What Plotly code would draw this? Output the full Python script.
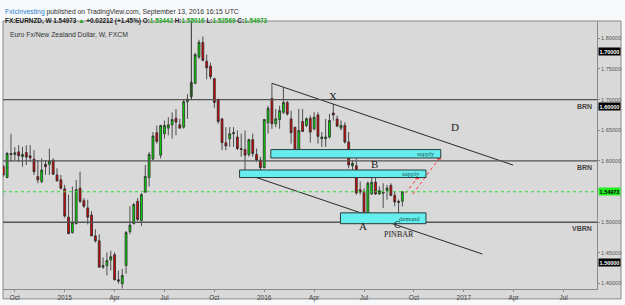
import plotly.graph_objects as go
import pandas as pd

# ---------------- data ----------------
first_week = "2014-09-15"
n_weeks = 105
dates = pd.date_range(first_week, periods=n_weeks, freq="7D")

opens = [1.5906, 1.5729, 1.6121, 1.6105, 1.6148, 1.6073, 1.6137, 1.6083, 1.6030, 1.5745,
         1.5664, 1.5944, 1.5944, 1.6013, 1.5772, 1.5691, 1.5546, 1.5083, 1.4831, 1.4976,
         1.5556, 1.5352, 1.5234, 1.5116, 1.4777, 1.4696, 1.4266, 1.4293, 1.4384, 1.4470,
         1.4062, 1.3997, 1.4293, 1.4847, 1.4976, 1.5341, 1.5030, 1.5492, 1.5729, 1.6030,
         1.6460, 1.6094, 1.6444, 1.6535, 1.6589, 1.6696, 1.6589, 1.6551, 1.6965, 1.7051,
         1.7266, 1.7696, 1.7933, 1.7626, 1.7546, 1.7341, 1.6997, 1.6686, 1.6298, 1.6363,
         1.6444, 1.6390, 1.6202, 1.6186, 1.6105, 1.6347, 1.6105, 1.6014, 1.5890, 1.6621,
         1.7019, 1.6605, 1.6675, 1.6793, 1.6954, 1.6686, 1.6551, 1.6175, 1.6643, 1.6578,
         1.6696, 1.6524, 1.6750, 1.6363, 1.6363, 1.6390, 1.6782, 1.6685, 1.6535, 1.6578,
         1.6309, 1.5922, 1.5922, 1.5530, 1.5503, 1.5110, 1.5460, 1.5653, 1.5460, 1.5492,
         1.5514, 1.5600, 1.5438, 1.5340, 1.53442]
highs = [1.5933, 1.6148, 1.6444, 1.6228, 1.6255, 1.6228, 1.6255, 1.6255, 1.6175, 1.6013,
         1.6040, 1.6013, 1.6202, 1.6040, 1.5879, 1.5772, 1.5610, 1.5449, 1.5583, 1.5691,
         1.5825, 1.5395, 1.5368, 1.5180, 1.4884, 1.4804, 1.4427, 1.4508, 1.4535, 1.4508,
         1.4212, 1.4239, 1.4858, 1.5261, 1.5315, 1.5395, 1.5476, 1.5933, 1.6148, 1.6470,
         1.6578, 1.6589, 1.6659, 1.6712, 1.6793, 1.6847, 1.6685, 1.7008, 1.7089, 1.7304,
         1.7761, 1.7976, 1.8030, 1.7734, 1.7600, 1.7358, 1.7019, 1.6696, 1.6551, 1.6551,
         1.6551, 1.6497, 1.6444, 1.6497, 1.6363, 1.6444, 1.6202, 1.6067, 1.6686, 1.6901,
         1.7266, 1.6847, 1.6901, 1.7196, 1.6981, 1.6820, 1.6551, 1.6847, 1.6847, 1.6712,
         1.6739, 1.6793, 1.6793, 1.6471, 1.6685, 1.6766, 1.6928, 1.6739, 1.6659, 1.6632,
         1.6470, 1.6014, 1.6040, 1.5664, 1.5557, 1.5664, 1.5825, 1.5761, 1.5583, 1.5637,
         1.5610, 1.5637, 1.5503, 1.5368, 1.55016]
lows = [1.5745, 1.5718, 1.5987, 1.6013, 1.5987, 1.5906, 1.5933, 1.5987, 1.5772, 1.5637,
        1.5637, 1.5772, 1.5772, 1.5772, 1.5664, 1.5530, 1.5073, 1.4804, 1.4815, 1.4965,
        1.5314, 1.5234, 1.4965, 1.4777, 1.4669, 1.4266, 1.4239, 1.4132, 1.4212, 1.4051,
        1.3997, 1.3920, 1.4159, 1.4804, 1.4965, 1.5019, 1.4938, 1.5476, 1.5583, 1.6014,
        1.6282, 1.6040, 1.6363, 1.6417, 1.6363, 1.6417, 1.6524, 1.6524, 1.6685, 1.7019,
        1.7250, 1.7664, 1.7626, 1.7331, 1.7331, 1.6860, 1.6605, 1.6175, 1.6175, 1.6229,
        1.6229, 1.6175, 1.6067, 1.5825, 1.6067, 1.6067, 1.5987, 1.5852, 1.5879, 1.6444,
        1.6524, 1.6551, 1.6524, 1.6766, 1.6739, 1.6282, 1.6105, 1.6148, 1.6470, 1.6551,
        1.6298, 1.6497, 1.6282, 1.6229, 1.6229, 1.6363, 1.6659, 1.6551, 1.6497, 1.6282,
        1.5879, 1.5852, 1.5449, 1.5449, 1.5100, 1.5100, 1.5449, 1.5449, 1.5449, 1.5234,
        1.5368, 1.5422, 1.5261, 1.5050, 1.52569]
closes = [1.5772, 1.6121, 1.6105, 1.6132, 1.6083, 1.6105, 1.6062, 1.6051, 1.5825, 1.5691,
          1.5852, 1.5906, 1.5997, 1.5782, 1.5675, 1.5556, 1.5100, 1.4815, 1.4992, 1.5530,
          1.5341, 1.5261, 1.5083, 1.4777, 1.4696, 1.4266, 1.4293, 1.4374, 1.4438, 1.4062,
          1.4040, 1.4132, 1.4831, 1.4954, 1.5288, 1.5046, 1.5449, 1.5745, 1.6105, 1.6406,
          1.6320, 1.6578, 1.6578, 1.6589, 1.6675, 1.6632, 1.6535, 1.6965, 1.7008, 1.7277,
          1.7734, 1.7933, 1.7642, 1.7519, 1.7374, 1.6954, 1.6643, 1.6298, 1.6245, 1.6444,
          1.6460, 1.6202, 1.6186, 1.6094, 1.6347, 1.6121, 1.6014, 1.5890, 1.6675, 1.6858,
          1.6605, 1.6686, 1.6820, 1.6954, 1.6766, 1.6460, 1.6121, 1.6497, 1.6481, 1.6686,
          1.6470, 1.6712, 1.6400, 1.6390, 1.6390, 1.6659, 1.6750, 1.6567, 1.6578, 1.6309,
          1.5933, 1.5960, 1.5476, 1.5492, 1.5110, 1.5637, 1.5653, 1.5460, 1.5514, 1.5476,
          1.5557, 1.5438, 1.5331, 1.5325, 1.54973]

last_price = 1.54973

x_tick_dates = ["2014-10-06", "2015-01-05", "2015-04-06", "2015-07-06", "2015-10-05",
                "2016-01-04", "2016-04-04", "2016-07-04", "2016-10-03", "2017-01-02",
                "2017-04-03", "2017-07-03"]
x_tick_text = ["Oct", "2015", "Apr", "Jul", "Oct", "2016", "Apr", "Jul", "Oct", "2017", "Apr", "Jul"]
# 1.55 is hidden behind the last-price tag in the reference
y_tick_vals = [1.40, 1.45, 1.50, 1.60, 1.65, 1.70, 1.75, 1.80]

levels = [1.70, 1.60, 1.50]
level_names = ["BRN", "BRN", "VBRN"]

# zones: (start, end, low, high, label)
zone_starts = ["2016-01-16", "2015-11-20", "2016-05-22"]
zone_ends = ["2016-11-21", "2016-10-25", "2016-10-25"]
zone_lows = [1.6048, 1.5729, 1.4976]
zone_highs = [1.6185, 1.5852, 1.5153]
zone_labels = ["supply", "supply", "demand"]

# trend lines
upper_line_dates = ["2016-01-18", "2017-04-02"]
upper_line_prices = [1.7266, 1.5932]
lower_line_dates = ["2015-11-24", "2017-02-05"]
lower_line_prices = [1.5810, 1.4481]
vline_date = "2015-08-24"

# red projection arrows
arrow_starts = [("2016-09-18", 1.5476), ("2016-10-01", 1.5460)]
arrow_ends = [("2016-10-09", 1.5718), ("2016-11-18", 1.6040)]

# wave labels
wave_text = ["X", "B", "A", "C", "D", "PINBAR"]
wave_dates = ["2016-05-08", "2016-07-23", "2016-07-03", "2016-09-03", "2016-12-17", "2016-09-06"]
wave_prices = [1.7052, 1.5944, 1.4939, 1.4968, 1.6552, 1.4795]
wave_sizes = [11, 11, 11, 10, 11, 8]

# price tags on the axis (as shown)
tag_texts = ["1.70000", "1.60000", "1.54973", "1.50000"]
tag_prices = [1.7782, 1.6895, 1.5503, 1.4347]
tag_colors = ["#000000", "#000000", "#22ee22", "#000000"]
tag_fonts = ["#ffffff", "#ffffff", "#000000", "#ffffff"]

# ---------------- layout helpers ----------------
W, H = 625, 305
L_, R_, T_, B_ = 3, 597, 21, 292


def px(xp):
    return (xp - L_) / (R_ - L_)


def py(yp):
    return (B_ - yp) / (B_ - T_)


y_top = 1.8282
y_bot = 1.3911
x_left = "2014-09-14 11:00"
x_right = "2017-09-02"

BG = "#d9d9d9"
SANS = "Liberation Sans, Arial, sans-serif"
SERIF = "Liberation Serif, Times New Roman, serif"

fig = go.Figure()

fig.add_trace(go.Candlestick(
    x=dates, open=opens, high=highs, low=lows, close=closes,
    increasing=dict(fillcolor="#00e400", line=dict(color="#2a2a2a", width=0.8)),
    decreasing=dict(fillcolor="#e00000", line=dict(color="#2a2a2a", width=0.8)),
    whiskerwidth=0, showlegend=False, hoverinfo="skip",
))

fig.add_trace(go.Scatter(x=upper_line_dates, y=upper_line_prices, mode="lines",
                         line=dict(color="#2a2a2a", width=1), showlegend=False, hoverinfo="skip"))
fig.add_trace(go.Scatter(x=lower_line_dates, y=lower_line_prices, mode="lines",
                         line=dict(color="#2a2a2a", width=1), showlegend=False, hoverinfo="skip"))

for (sd, sp), (ed, ep) in zip(arrow_starts, arrow_ends):
    fig.add_trace(go.Scatter(x=[sd, ed], y=[sp, ep], mode="lines",
                             line=dict(color="#ff3030", width=1, dash="dot"),
                             showlegend=False, hoverinfo="skip"))
    fig.add_trace(go.Scatter(x=[ed], y=[ep], mode="markers",
                             marker=dict(symbol="triangle-up", size=4, color="#ff3030"),
                             showlegend=False, hoverinfo="skip"))

shapes = []
shapes.append(dict(type="rect", xref="paper", yref="paper", x0=0, x1=px(621), y0=py(302), y1=1,
                   fillcolor=BG, line=dict(color="#8a8a8a", width=1), layer="below"))
for lv in levels:
    shapes.append(dict(type="line", xref="paper", yref="y", x0=0, x1=1, y0=lv, y1=lv,
                       line=dict(color="#555555", width=1.3)))
shapes.append(dict(type="line", xref="paper", yref="y", x0=0, x1=1, y0=last_price, y1=last_price,
                   line=dict(color="#33dd33", width=1, dash="dot")))
shapes.append(dict(type="line", xref="x", yref="y", x0=vline_date, x1=vline_date, y0=levels[0], y1=y_top,
                   line=dict(color="#333333", width=1)))
for s, e, lo, hi in zip(zone_starts, zone_ends, zone_lows, zone_highs):
    shapes.append(dict(type="rect", xref="x", yref="y", x0=s, x1=e, y0=lo, y1=hi,
                       fillcolor="#66eeee", line=dict(color="#2b3b3b", width=1)))

annotations = []
for s, e, lo, hi, lab in zip(zone_starts, zone_ends, zone_lows, zone_highs, zone_labels):
    annotations.append(dict(x=e, y=(lo + hi) / 2, xref="x", yref="y", text=lab, showarrow=False,
                            xanchor="right", xshift=-4, font=dict(family=SERIF, size=6.5, color="#1a5a5a")))
for lv, nm in zip(levels, level_names):
    annotations.append(dict(x=px(594), y=lv, xref="paper", yref="y", text="<b>" + nm + "</b>",
                            showarrow=False, xanchor="right", yanchor="top", yshift=-1,
                            font=dict(family=SANS, size=7, color="#444444")))
for t, d, p, s in zip(wave_text, wave_dates, wave_prices, wave_sizes):
    annotations.append(dict(x=d, y=p, xref="x", yref="y", text=t, showarrow=False,
                            font=dict(family=SERIF, size=s, color="#222222")))
for t, p, bc, fc in zip(tag_texts, tag_prices, tag_colors, tag_fonts):
    annotations.append(dict(x=px(597.5), y=p, xref="paper", yref="y", text="<b>" + t + "</b>",
                            showarrow=False, xanchor="left", bgcolor=bc, width=21, height=7,
                            borderpad=0, font=dict(family=SANS, size=5.5, color=fc)))

annotations.append(dict(x=px(3), y=py(6), xref="paper", yref="paper", xanchor="left", showarrow=False,
                        text="<span style='color:#2a7fd0'>FxIcinvesting</span> published on TradingView.com, September 13, 2016 16:15 UTC",
                        font=dict(family=SANS, size=6.8, color="#333333")))
G = "#1fa51f"
annotations.append(dict(x=px(3), y=py(15), xref="paper", yref="paper", xanchor="left", showarrow=False,
                        text=("<b>FX:EURNZD, W 1.54973 <span style='color:%s'>▲</span> +0.02212 (+1.45%%) "
                              "O:<span style='color:%s'>1.53442</span> H:<span style='color:%s'>1.55016</span> "
                              "L:<span style='color:%s'>1.52569</span> C:<span style='color:%s'>1.54973</span></b>") % (G, G, G, G, G),
                        font=dict(family=SANS, size=6.4, color="#222222")))
annotations.append(dict(x=px(8), y=py(29), xref="paper", yref="paper", xanchor="left", showarrow=False,
                        text="Euro Fx/New Zealand Dollar, W, FXCM",
                        font=dict(family=SANS, size=6.8, color="#333333")))

fig.update_layout(
    width=W, height=H,
    margin=dict(l=L_, r=W - R_, t=T_, b=H - B_),
    paper_bgcolor="#f7f8fa", plot_bgcolor=BG,
    shapes=shapes, annotations=annotations,
    showlegend=False,
    xaxis=dict(type="date", range=[x_left, x_right], rangeslider=dict(visible=False),
               tickvals=x_tick_dates, ticktext=x_tick_text, showgrid=False, zeroline=False,
               showline=True, linecolor="#8a8a8a", linewidth=1, ticks="outside", ticklen=2,
               tickcolor="#8a8a8a", tickfont=dict(family=SANS, size=6.5, color="#444444")),
    yaxis=dict(range=[y_bot, y_top], side="right", tickvals=y_tick_vals, tickformat=".5f",
               showgrid=False, zeroline=False, showline=True, linecolor="#8a8a8a", linewidth=1,
               ticks="outside", ticklen=2, tickcolor="#8a8a8a",
               tickfont=dict(family=SANS, size=5.5, color="#555555")),
)

fig.write_html("out.html")
